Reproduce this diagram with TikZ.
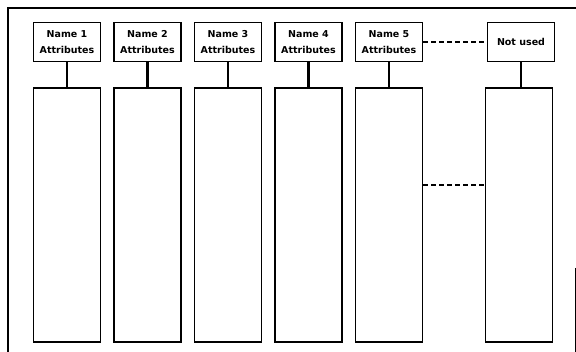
\documentclass[tikz,border=0pt]{standalone}
\usepackage{fontspec}
\setmainfont{DejaVu Sans}
\usetikzlibrary{positioning}

\begin{document}
\begin{tikzpicture}[x=1pt, y=-1pt,
	head/.style = {draw, line width=1.3pt, minimum width=67pt, minimum height=39pt, inner sep=0pt, align=center, font=\bfseries\fontsize{9.5}{15.5}\selectfont},
	column/.style = {draw, line width=1.3pt, minimum width=67pt, minimum height=254pt, inner sep=0pt},
	stem/.style = {line width=2.2pt},
	gap/.style = {dash pattern=on 5pt off 3pt, line width=1.3pt}]
	\useasboundingbox (0,0) rectangle (576,352);
	\draw [line width=1.1pt] (8,352) -- (8,8) -- (576,8);
	\draw [line width=.6pt] (575,268) -- (575,352);
	\node [head] (n1) at (67,42) {Name 1\\Attributes};
	\node [head] (n2) at (147.5,42) {Name 2\\Attributes};
	\node [head] (n3) at (228,42) {Name 3\\Attributes};
	\node [head] (n4) at (308.5,42) {Name 4\\Attributes};
	\node [head] (n5) at (389,42) {Name 5\\Attributes};
	\node [head] (nu) at (521,42) {Not used};
	\node [column] (c1) at (67,215) {};
	\node [column] (c2) at (147.5,215) {};
	\node [column] (c3) at (228,215) {};
	\node [column] (c4) at (308.5,215) {};
	\node [column] (c5) at (389,215) {};
	\node [column] (c6) at (519,215) {};
	\draw [stem] (n1) -- (c1);
	\draw [stem] (n2) -- (c2);
	\draw [stem] (n3) -- (c3);
	\draw [stem] (n4) -- (c4);
	\draw [stem] (n5) -- (c5);
	\draw [stem] (nu) -- (nu |- c6.north);
	\draw [gap] (n5) -- (nu);
	\draw [gap] ([yshift=30pt]c5.east) -- ([yshift=30pt]c6.west);
\end{tikzpicture}
\end{document}
